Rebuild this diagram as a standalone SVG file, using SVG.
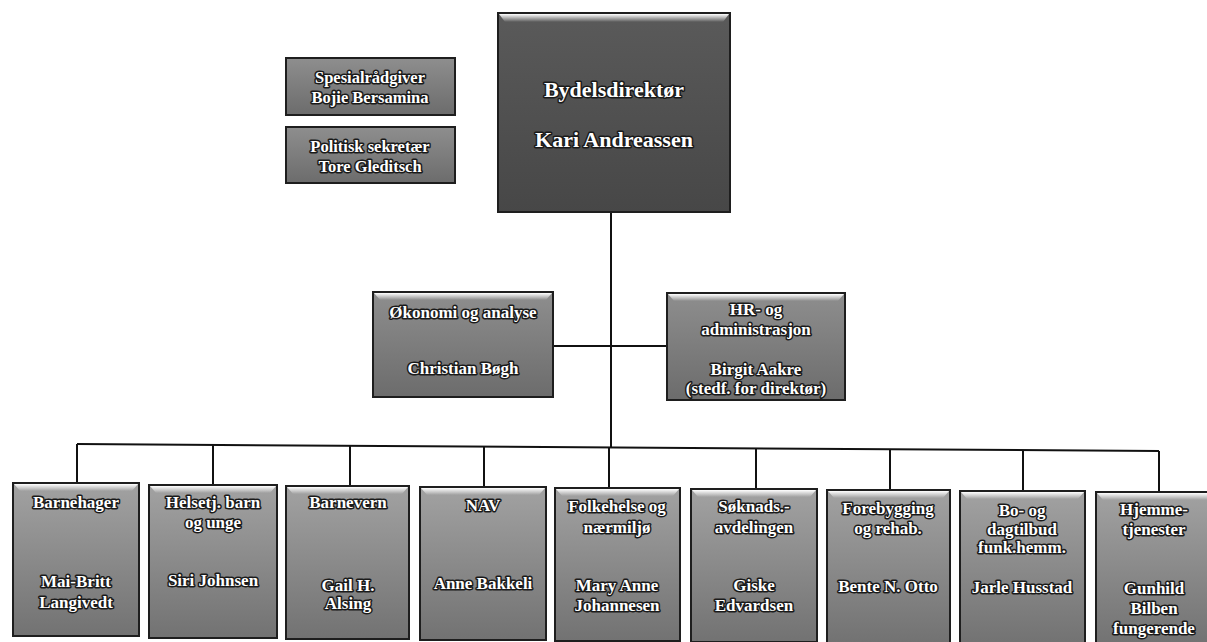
<svg xmlns="http://www.w3.org/2000/svg" width="1207" height="642" viewBox="0 0 1207 642">
<defs>
<linearGradient id="gTop" x1="0" y1="0" x2="0" y2="1">
<stop offset="0" stop-color="#5a5a5a"/><stop offset="1" stop-color="#474747"/>
</linearGradient>
<linearGradient id="gMid" x1="0" y1="0" x2="0" y2="1">
<stop offset="0" stop-color="#8e8e8e"/><stop offset="1" stop-color="#6c6c6c"/>
</linearGradient>
<linearGradient id="gBot" x1="0" y1="0" x2="0" y2="1">
<stop offset="0" stop-color="#a2a2a2"/><stop offset="0.5" stop-color="#8a8a8a"/><stop offset="1" stop-color="#727272"/>
</linearGradient>
<linearGradient id="gBevel" x1="0" y1="0" x2="0" y2="1">
<stop offset="0" stop-color="#ffffff"/><stop offset="1" stop-color="#ffffff" stop-opacity="0"/>
</linearGradient>
</defs>
<style>
.box{stroke:#1e1e1e;stroke-width:2}
.top{fill:url(#gTop)}
.mid{fill:url(#gMid)}
.bot{fill:url(#gBot)}
.bev{fill:url(#gBevel)}
.conn line{stroke:#111;stroke-width:2}
text{font-family:"Liberation Serif","Times New Roman",serif;font-weight:bold;fill:#ffffff;stroke:#1a1a1a;stroke-width:3;paint-order:stroke;stroke-linejoin:round;text-anchor:middle}
.t16{font-size:17px}
.t15{font-size:16.5px}
.t21{font-size:22px}
</style>
<rect width="1207" height="642" fill="#ffffff"/>

<g id="connectors" class="conn">
<line x1="611" y1="212" x2="611" y2="448"/>
<line x1="553" y1="346" x2="667" y2="346"/>
<line x1="77" y1="444" x2="1159" y2="451"/>
<line x1="77" y1="444" x2="77" y2="483"/>
<line x1="213" y1="445" x2="213" y2="485"/>
<line x1="350" y1="446" x2="350" y2="486"/>
<line x1="484" y1="447" x2="484" y2="487"/>
<line x1="609" y1="447" x2="609" y2="488"/>
<line x1="756" y1="448" x2="756" y2="489"/>
<line x1="890" y1="449" x2="890" y2="490"/>
<line x1="1023" y1="450" x2="1023" y2="491"/>
<line x1="1159" y1="451" x2="1159" y2="492"/>
</g>

<g id="n-direktor">
<rect class="box top" x="498" y="13" width="232" height="199"/>
<polygon class="bev" points="499,14 729,14 723,22 505,22"/>
<text class="t21" x="614" y="97">Bydelsdirektør</text>
<text class="t21" x="614" y="147">Kari Andreassen</text>
</g>

<g id="n-spesial">
<rect class="box mid" x="286" y="58" width="169" height="57"/>
<text class="t15" x="370" y="83">Spesialrådgiver</text>
<text class="t15" x="370" y="103">Bojie Bersamina</text>
</g>

<g id="n-politisk">
<rect class="box mid" x="286" y="127" width="169" height="56"/>
<text class="t15" x="370" y="152">Politisk sekretær</text>
<text class="t15" x="370" y="172">Tore Gleditsch</text>
</g>

<g id="n-okonomi">
<rect class="box mid" x="373" y="292" width="180" height="105"/>
<polygon class="bev" points="374,293 552,293 546,300 380,300"/>
<text class="t16" x="463" y="318">Økonomi og analyse</text>
<text class="t16" x="463" y="374">Christian Bøgh</text>
</g>

<g id="n-hr">
<rect class="box mid" x="667" y="293" width="178" height="107"/>
<polygon class="bev" points="668,294 844,294 838,301 674,301"/>
<text class="t16" x="756" y="315">HR- og</text>
<text class="t16" x="756" y="335">administrasjon</text>
<text class="t16" x="756" y="375">Birgit Aakre</text>
<text class="t16" x="756" y="394">(stedf. for direktør)</text>
</g>

<g id="n-barnehager">
<rect class="box bot" x="13" y="483" width="126" height="153"/>
<polygon class="bev" points="14,484 138,484 132,491 20,491"/>
<text class="t16" x="76" y="508">Barnehager</text>
<text class="t16" x="76" y="587">Mai-Britt</text>
<text class="t16" x="76" y="608">Langivedt</text>
</g>

<g id="n-helsetj">
<rect class="box bot" x="149" y="485" width="128" height="153"/>
<polygon class="bev" points="150,486 276,486 270,493 156,493"/>
<text class="t16" x="213" y="508">Helsetj.  barn</text>
<text class="t16" x="213" y="528">og unge</text>
<text class="t16" x="213" y="586">Siri Johnsen</text>
</g>

<g id="n-barnevern">
<rect class="box bot" x="286" y="486" width="123" height="153"/>
<polygon class="bev" points="287,487 408,487 402,494 293,494"/>
<text class="t16" x="348" y="508">Barnevern</text>
<text class="t16" x="348" y="591">Gail H.</text>
<text class="t16" x="348" y="609">Alsing</text>
</g>

<g id="n-nav">
<rect class="box bot" x="420" y="487" width="126" height="153"/>
<polygon class="bev" points="421,488 545,488 539,495 427,495"/>
<text class="t16" x="483" y="511">NAV</text>
<text class="t16" x="483" y="589">Anne Bakkeli</text>
</g>

<g id="n-folkehelse">
<rect class="box bot" x="555" y="488" width="125" height="153"/>
<polygon class="bev" points="556,489 679,489 673,496 562,496"/>
<text class="t16" x="617" y="512">Folkehelse og</text>
<text class="t16" x="617" y="533">nærmiljø</text>
<text class="t16" x="617" y="591">Mary Anne</text>
<text class="t16" x="617" y="611">Johannesen</text>
</g>

<g id="n-soknads">
<rect class="box bot" x="691" y="489" width="126" height="153"/>
<polygon class="bev" points="692,490 816,490 810,497 698,497"/>
<text class="t16" x="754" y="512">Søknads.-</text>
<text class="t16" x="754" y="533">avdelingen</text>
<text class="t16" x="754" y="591">Giske</text>
<text class="t16" x="754" y="611">Edvardsen</text>
</g>

<g id="n-forebygging">
<rect class="box bot" x="827" y="490" width="123" height="153"/>
<polygon class="bev" points="828,491 949,491 943,498 834,498"/>
<text class="t16" x="888" y="514">Forebygging</text>
<text class="t16" x="888" y="534">og rehab.</text>
<text class="t16" x="888" y="592">Bente N. Otto</text>
</g>

<g id="n-bo">
<rect class="box bot" x="960" y="491" width="125" height="153"/>
<polygon class="bev" points="961,492 1084,492 1078,499 967,499"/>
<text class="t16" x="1022" y="516">Bo- og</text>
<text class="t16" x="1022" y="535">dagtilbud</text>
<text class="t16" x="1022" y="553">funk.hemm.</text>
<text class="t16" x="1022" y="593">Jarle Husstad</text>
</g>

<g id="n-hjemme">
<rect class="box bot" x="1096" y="492" width="118" height="153"/>
<polygon class="bev" points="1097,493 1213,493 1207,500 1103,500"/>
<text class="t16" x="1154" y="515">Hjemme-</text>
<text class="t16" x="1154" y="535">tjenester</text>
<text class="t16" x="1154" y="594">Gunhild</text>
<text class="t16" x="1154" y="614">Bilben</text>
<text class="t16" x="1154" y="634">fungerende</text>
</g>
</svg>
